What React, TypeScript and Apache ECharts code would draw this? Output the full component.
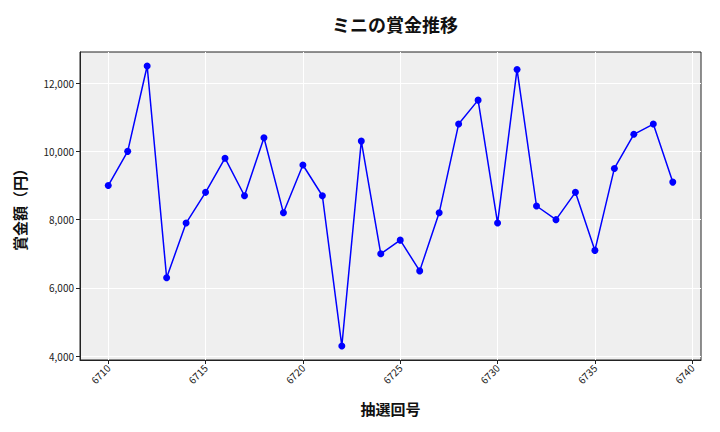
import { useEffect, useRef } from "react";
import * as echarts from "echarts";

// 抽選回号 and the prize for ミニ in each draw
const drawNumbers = [
  6710, 6711, 6712, 6713, 6714, 6715, 6716, 6717, 6718, 6719,
  6720, 6721, 6722, 6723, 6724, 6725, 6726, 6727, 6728, 6729,
  6730, 6731, 6732, 6733, 6734, 6735, 6736, 6737, 6738, 6739,
];
const prizeValues = [
  9000, 10000, 12500, 6300, 7900, 8800, 9800, 8700, 10400, 8200,
  9600, 8700, 4300, 10300, 7000, 7400, 6500, 8200, 10800, 11500,
  7900, 12400, 8400, 8000, 8800, 7100, 9500, 10500, 10800, 9100,
];
const xTicks = [6710, 6715, 6720, 6725, 6730, 6735, 6740];
const yTicks = [4000, 6000, 8000, 10000, 12000];

const FONT = '"Noto Sans CJK JP", "Noto Sans", sans-serif';

export default function App() {
  const chartEl = useRef<HTMLDivElement>(null);

  useEffect(() => {
    document.body.style.margin = "0";
    if (!chartEl.current) return;
    const chart = echarts.init(chartEl.current, undefined, { renderer: "svg" });

    // matplotlib style 5% padding around the data
    const xSpan = drawNumbers[drawNumbers.length - 1] - drawNumbers[0];
    const yLo = Math.min(...prizeValues);
    const yHi = Math.max(...prizeValues);
    const ySpan = yHi - yLo;

    chart.setOption({
      animation: false,
      backgroundColor: "#ffffff",
      textStyle: { fontFamily: FONT },
      title: {
        text: "ミニの賞金推移",
        left: 390,
        top: 10,
        textAlign: "center",
        textStyle: { fontFamily: FONT, fontSize: 18, fontWeight: "bold", color: "#111" },
      },
      grid: {
        left: 80,
        right: 19,
        top: 52,
        bottom: 72,
        show: true,
        backgroundColor: "#efefef",
        borderColor: "#222",
        borderWidth: 1,
      },
      xAxis: {
        type: "value",
        min: drawNumbers[0] - xSpan * 0.05,
        max: drawNumbers[drawNumbers.length - 1] + xSpan * 0.05,
        name: "抽選回号",
        nameLocation: "middle",
        nameGap: 41,
        nameTextStyle: { fontFamily: FONT, fontSize: 15, fontWeight: "bold", color: "#111" },
        axisLine: { show: true, onZero: false, lineStyle: { color: "#222", width: 1 } },
        axisTick: {
          show: true,
          customValues: xTicks,
          length: 4,
          lineStyle: { color: "#222" },
        },
        axisLabel: {
          customValues: xTicks,
          rotate: 45,
          fontSize: 10,
          color: "#222",
          margin: 6,
          fontFamily: FONT,
          formatter: (v: number) => String(v),
        },
        splitLine: { show: true, lineStyle: { color: "#ffffff", width: 1 } },
      },
      yAxis: {
        type: "value",
        min: yLo - ySpan * 0.05,
        max: yHi + ySpan * 0.05,
        name: "賞金額（円）",
        nameLocation: "middle",
        nameGap: 53,
        nameTextStyle: { fontFamily: FONT, fontSize: 15, fontWeight: "bold", color: "#111" },
        axisLine: { show: true, lineStyle: { color: "#222", width: 1 } },
        axisTick: {
          show: true,
          customValues: yTicks,
          length: 4,
          lineStyle: { color: "#222" },
        },
        axisLabel: {
          customValues: yTicks,
          fontSize: 10,
          color: "#222",
          margin: 6,
          fontFamily: FONT,
          formatter: (v: number) => v.toLocaleString("en-US"),
        },
        splitLine: { show: true, lineStyle: { color: "#ffffff", width: 1 } },
      },
      series: [
        {
          type: "line",
          data: drawNumbers.map((d, i) => [d, prizeValues[i]]),
          symbol: "circle",
          symbolSize: 7,
          lineStyle: { color: "#0000ff", width: 1.5 },
          itemStyle: { color: "#0000ff" },
        },
      ],
    });

    return () => chart.dispose();
  }, []);

  return <div ref={chartEl} style={{ width: 720, height: 432 }} />;
}
